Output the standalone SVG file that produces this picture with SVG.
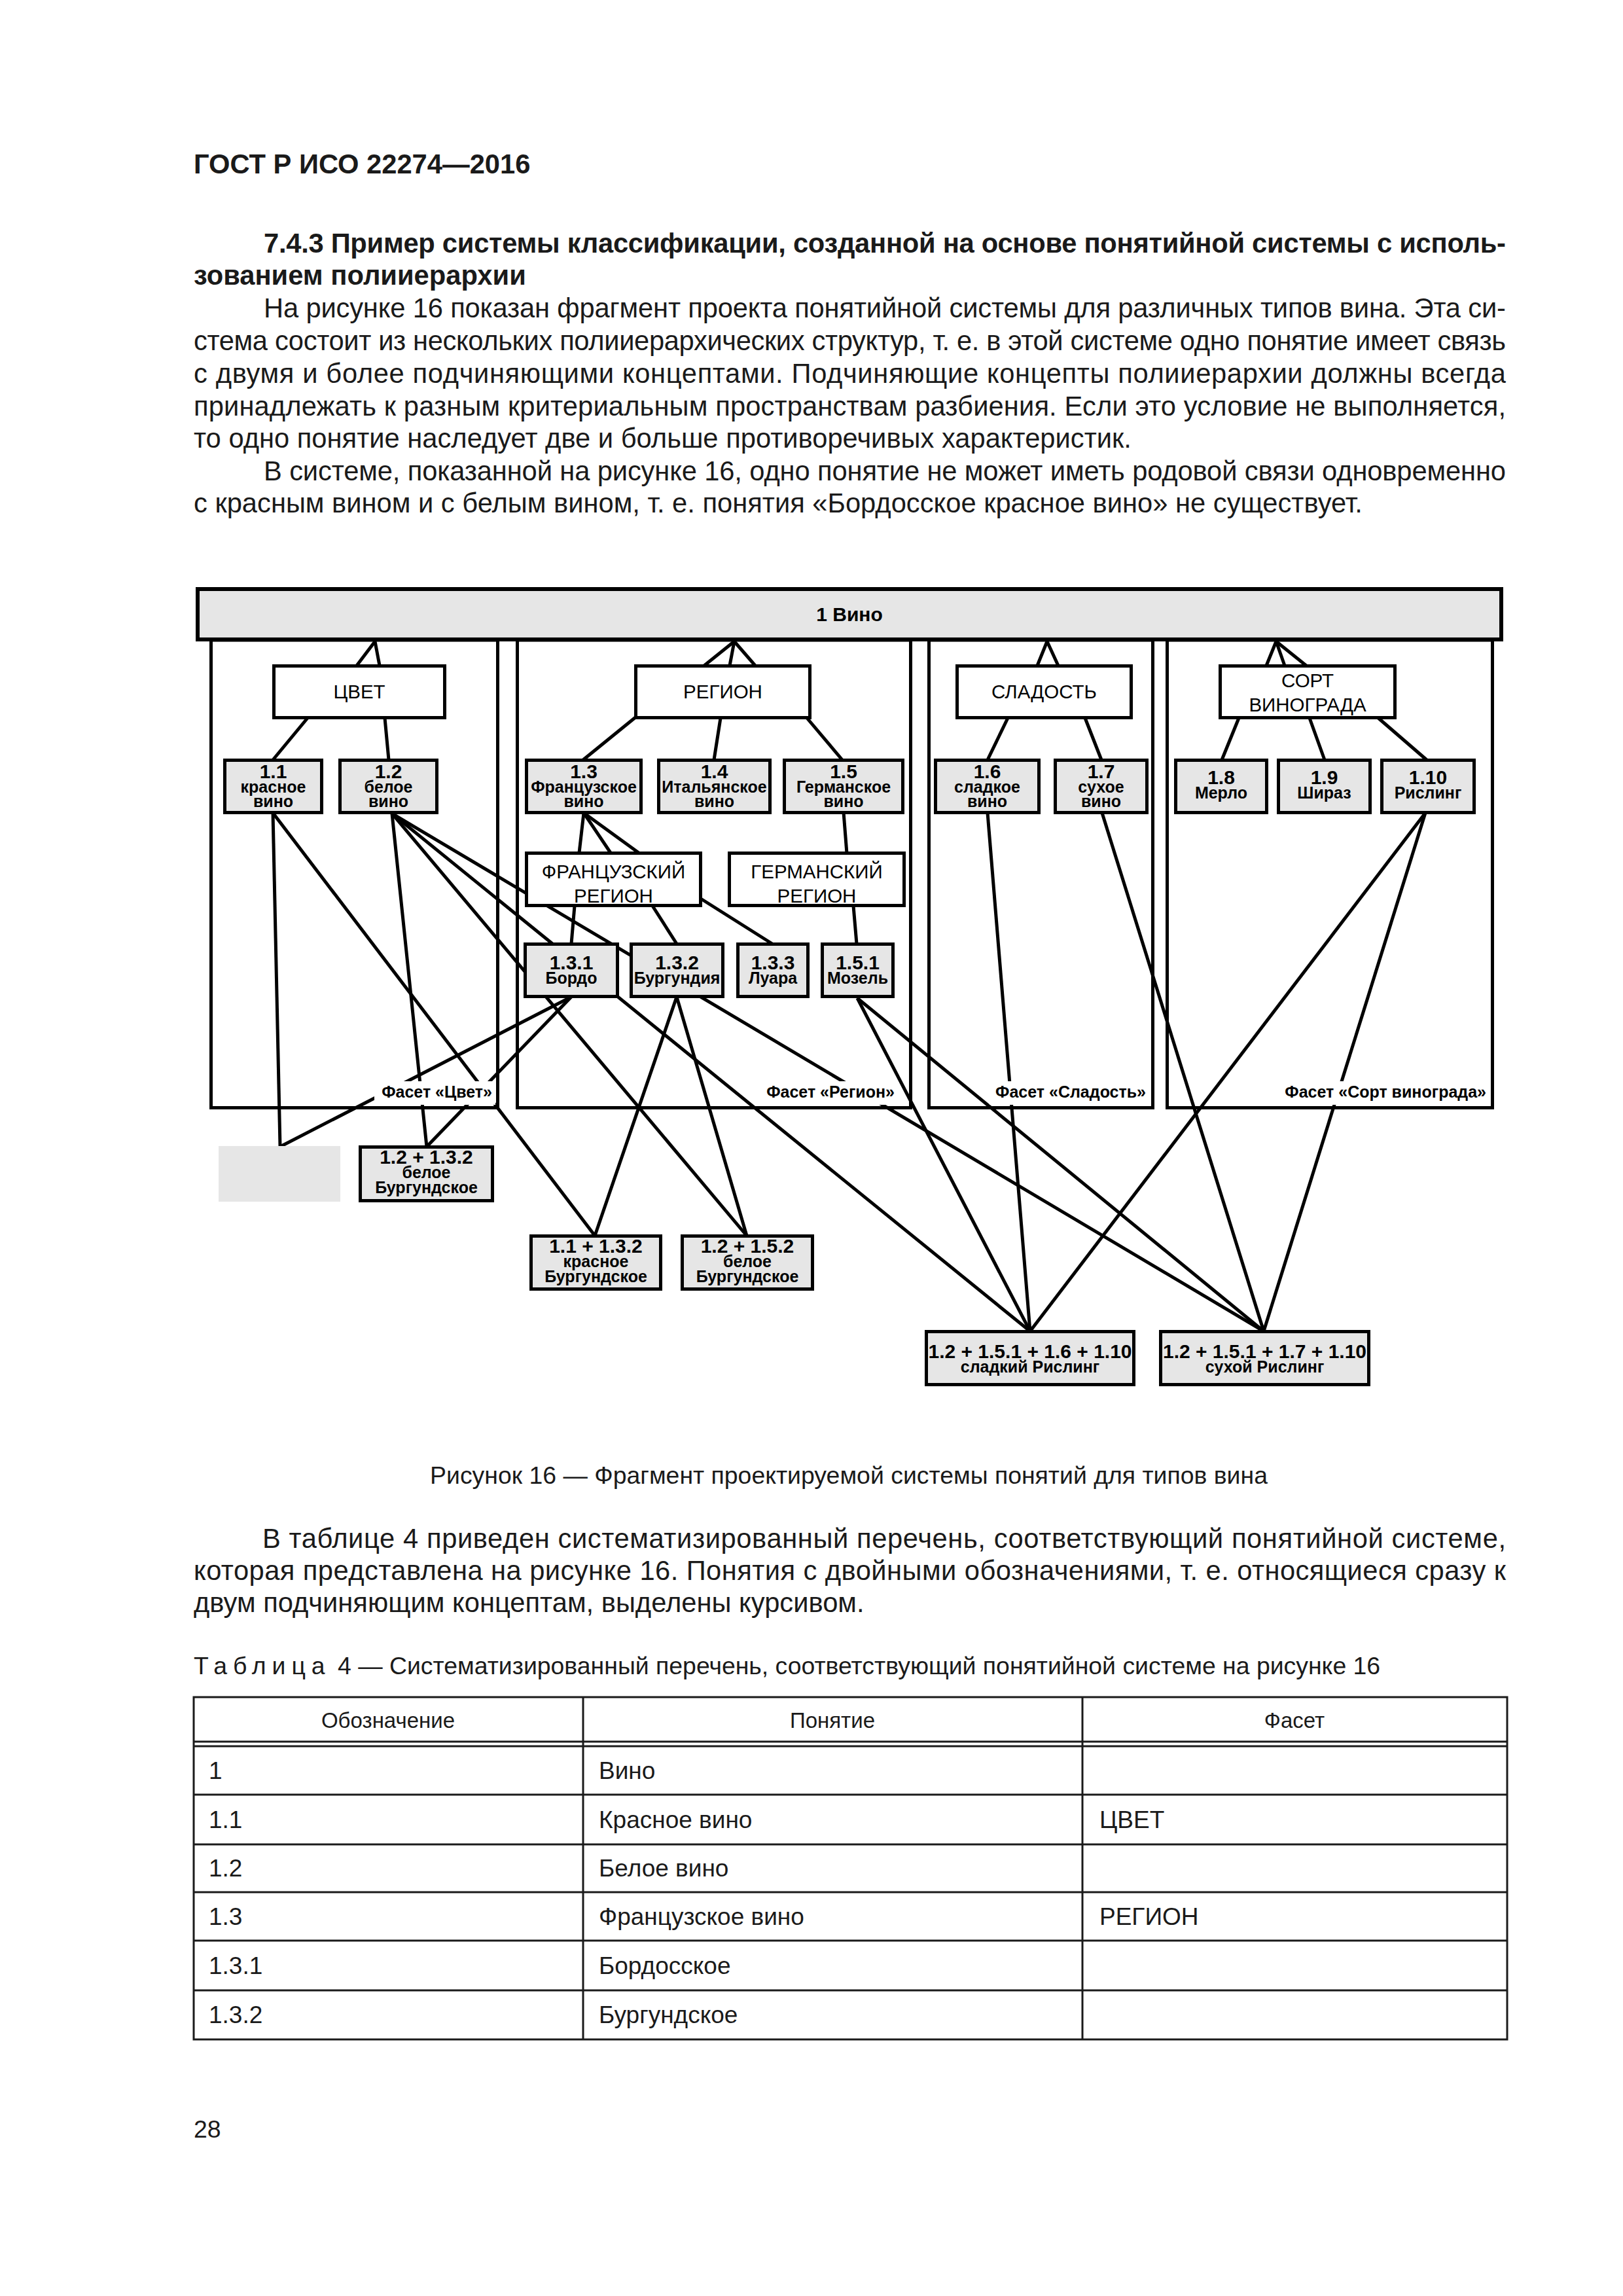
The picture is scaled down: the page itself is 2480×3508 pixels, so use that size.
<svg xmlns="http://www.w3.org/2000/svg" width="2480" height="3508" viewBox="0 0 2480 3508">
<style>
.page{fill:#1a1a1a;font-family:"Liberation Sans",Arial,sans-serif}
.body{font-size:41.7px}
.bold{font-weight:bold}
.cap{font-size:37.4px}
.th{font-size:33px;text-anchor:middle}
.td{font-size:37px}
.tbl{fill:none;stroke:#1a1a1a;stroke-width:3}
.gbox{fill:#e6e6e6;stroke:#000;stroke-width:5}
.wbox{fill:#fff;stroke:#000;stroke-width:5}
.facet{fill:none;stroke:#000;stroke-width:5}
.conn line{stroke:#000;stroke-width:5}
.t{font-family:"Liberation Sans",Arial,sans-serif;fill:#000;text-anchor:middle}
.num{font-size:30px;font-weight:bold}
.lbl{font-size:25px;font-weight:bold}
.hdr{font-size:29.5px}
.flab{font-family:"Liberation Sans",Arial,sans-serif;font-size:25px;font-weight:bold;text-anchor:end;fill:#000}
.lbg{fill:#fff}
</style>
<rect width="2480" height="3508" fill="#fff"/>

<!-- page text -->
<g class="page">
<text class="body bold" x="296" y="265">ГОСТ Р ИСО 22274—2016</text>
<text class="body bold" x="403" y="386" textLength="1898" lengthAdjust="spacing">7.4.3 Пример системы классификации, созданной на основе понятийной системы с исполь-</text>
<text class="body bold" x="296" y="435">зованием полииерархии</text>
<text class="body" x="403" y="485" textLength="1898" lengthAdjust="spacing">На рисунке 16 показан фрагмент проекта понятийной системы для различных типов вина. Эта си-</text>
<text class="body" x="296" y="535" textLength="2005" lengthAdjust="spacing">стема состоит из нескольких полииерархических структур, т. е. в этой системе одно понятие имеет связь</text>
<text class="body" x="296" y="585" textLength="2005" lengthAdjust="spacing">с двумя и более подчиняющими концептами. Подчиняющие концепты полииерархии должны всегда</text>
<text class="body" x="296" y="635" textLength="2005" lengthAdjust="spacing">принадлежать к разным критериальным пространствам разбиения. Если это условие не выполняется,</text>
<text class="body" x="296" y="684">то одно понятие наследует две и больше противоречивых характеристик.</text>
<text class="body" x="403" y="734" textLength="1898" lengthAdjust="spacing">В системе, показанной на рисунке 16, одно понятие не может иметь родовой связи одновременно</text>
<text class="body" x="296" y="783">с красным вином и с белым вином, т. е. понятия «Бордосское красное вино» не существует.</text>

<text class="cap" x="1297" y="2267" text-anchor="middle">Рисунок 16 — Фрагмент проектируемой системы понятий для типов вина</text>
<text class="body" x="401" y="2365" textLength="1900" lengthAdjust="spacing">В таблице 4 приведен систематизированный перечень, соответствующий понятийной системе,</text>
<text class="body" x="296" y="2414" textLength="2005" lengthAdjust="spacing">которая представлена на рисунке 16. Понятия с двойными обозначениями, т. е. относящиеся сразу к</text>
<text class="body" x="296" y="2463">двум подчиняющим концептам, выделены курсивом.</text>
<text class="cap" x="296" y="2558"><tspan letter-spacing="9">Таблица</tspan> 4 — Систематизированный перечень, соответствующий понятийной системе на рисунке 16</text>

<g id="table">
<rect class="tbl" x="296" y="2593" width="2007" height="523"/>
<line class="tbl" x1="296" y1="2661" x2="2303" y2="2661"/>
<line class="tbl" x1="296" y1="2668" x2="2303" y2="2668"/>
<line class="tbl" x1="296" y1="2742" x2="2303" y2="2742"/>
<line class="tbl" x1="296" y1="2818" x2="2303" y2="2818"/>
<line class="tbl" x1="296" y1="2891" x2="2303" y2="2891"/>
<line class="tbl" x1="296" y1="2965" x2="2303" y2="2965"/>
<line class="tbl" x1="296" y1="3041" x2="2303" y2="3041"/>
<line class="tbl" x1="891" y1="2593" x2="891" y2="3116"/>
<line class="tbl" x1="1654" y1="2593" x2="1654" y2="3116"/>
<text class="th" x="593" y="2640">Обозначение</text>
<text class="th" x="1272" y="2640">Понятие</text>
<text class="th" x="1978" y="2640">Фасет</text>
<text class="td" x="319" y="2718">1</text>
<text class="td" x="915" y="2718">Вино</text>
<text class="td" x="319" y="2793">1.1</text>
<text class="td" x="915" y="2793">Красное вино</text>
<text class="td" x="1680" y="2793">ЦВЕТ</text>
<text class="td" x="319" y="2867">1.2</text>
<text class="td" x="915" y="2867">Белое вино</text>
<text class="td" x="319" y="2941">1.3</text>
<text class="td" x="915" y="2941">Французское вино</text>
<text class="td" x="1680" y="2941">РЕГИОН</text>
<text class="td" x="319" y="3016">1.3.1</text>
<text class="td" x="915" y="3016">Бордосское</text>
<text class="td" x="319" y="3091">1.3.2</text>
<text class="td" x="915" y="3091">Бургундское</text>
</g>
<text class="cap" x="296" y="3266">28</text>
</g>

<!-- facet frames -->
<g id="facet-color"><rect class="facet" x="322.5" y="978" width="438" height="714.5"/></g>
<g id="facet-region"><rect class="facet" x="790.5" y="978" width="601" height="714.5"/></g>
<g id="facet-sweet"><rect class="facet" x="1419.5" y="978" width="342" height="714.5"/></g>
<g id="facet-grape"><rect class="facet" x="1783.5" y="978" width="497" height="714.5"/></g>

<!-- connectors -->
<g id="connectors" class="conn">
<line x1="573" y1="980" x2="545" y2="1017"/>
<line x1="573" y1="980" x2="580" y2="1017"/>
<line x1="1122" y1="980" x2="1076" y2="1017"/>
<line x1="1122" y1="980" x2="1115" y2="1017"/>
<line x1="1122" y1="980" x2="1154" y2="1017"/>
<line x1="1600" y1="980" x2="1585" y2="1017"/>
<line x1="1600" y1="980" x2="1617" y2="1017"/>
<line x1="1950" y1="980" x2="1935" y2="1017"/>
<line x1="1950" y1="980" x2="1963" y2="1017"/>
<line x1="1950" y1="980" x2="1996" y2="1017"/>
<line x1="470" y1="1097" x2="417" y2="1161"/>
<line x1="588" y1="1097" x2="594" y2="1161"/>
<line x1="971" y1="1096" x2="891" y2="1161"/>
<line x1="1101" y1="1097" x2="1091" y2="1161"/>
<line x1="1233" y1="1097" x2="1287" y2="1161"/>
<line x1="1540" y1="1097" x2="1509" y2="1161"/>
<line x1="1658" y1="1097" x2="1683" y2="1161"/>
<line x1="1893" y1="1097" x2="1867" y2="1161"/>
<line x1="2001" y1="1097" x2="2024" y2="1161"/>
<line x1="2106" y1="1097" x2="2180" y2="1161"/>
<line x1="892" y1="1242" x2="885" y2="1303"/>
<line x1="892" y1="1242" x2="933" y2="1303"/>
<line x1="892" y1="1242" x2="976" y2="1303"/>
<line x1="1289" y1="1241" x2="1294" y2="1304"/>
<line x1="878" y1="1384" x2="873" y2="1442"/>
<line x1="997" y1="1384" x2="1034" y2="1442"/>
<line x1="1066" y1="1370" x2="1180" y2="1442"/>
<line x1="1304" y1="1384" x2="1309" y2="1442"/>
<line x1="417" y1="1242" x2="428" y2="1752"/>
<line x1="417" y1="1242" x2="909" y2="1888"/>
<line x1="599" y1="1243" x2="652" y2="1752"/>
<line x1="599" y1="1243" x2="1141" y2="1888"/>
<line x1="599" y1="1243" x2="1574" y2="2034"/>
<line x1="599" y1="1243" x2="1931" y2="2034"/>
<line x1="873" y1="1523" x2="428" y2="1752"/>
<line x1="873" y1="1523" x2="652" y2="1752"/>
<line x1="1034" y1="1523" x2="909" y2="1888"/>
<line x1="1034" y1="1523" x2="1141" y2="1888"/>
<line x1="1310" y1="1525" x2="1574" y2="2034"/>
<line x1="1310" y1="1525" x2="1931" y2="2034"/>
<line x1="1509" y1="1242" x2="1574" y2="2034"/>
<line x1="1684" y1="1242" x2="1931" y2="2034"/>
<line x1="2178" y1="1242" x2="1574" y2="2034"/>
<line x1="2178" y1="1242" x2="1931" y2="2034"/>
</g>

<!-- facet labels -->
<g id="facet-labels">
<rect class="lbg" x="572" y="1652" width="185" height="36"/>
<text class="flab" x="752" y="1677">Фасет «Цвет»</text>
<rect class="lbg" x="1162" y="1652" width="209" height="36"/>
<text class="flab" x="1367" y="1677">Фасет «Регион»</text>
<rect class="lbg" x="1512" y="1652" width="245" height="36"/>
<text class="flab" x="1751" y="1677">Фасет «Сладость»</text>
<rect class="lbg" x="1958" y="1652" width="319" height="36"/>
<text class="flab" x="2271" y="1677">Фасет «Сорт винограда»</text>
</g>

<!-- nodes -->
<g id="n1"><rect x="302" y="900" width="1992" height="77" fill="#e6e6e6" stroke="#000" stroke-width="6"/><text class="t num" x="1298" y="949" font-size="28">1 Вино</text></g>

<g id="color"><rect class="wbox" x="418.5" y="1017.5" width="261" height="79"/><text class="t hdr" x="549" y="1067">ЦВЕТ</text></g>
<g id="region"><rect class="wbox" x="971.5" y="1017.5" width="266" height="79"/><text class="t hdr" x="1104.5" y="1067">РЕГИОН</text></g>
<g id="sweetness"><rect class="wbox" x="1462.5" y="1017.5" width="266" height="79"/><text class="t hdr" x="1595.5" y="1067">СЛАДОСТЬ</text></g>
<g id="grape"><rect class="wbox" x="1864.5" y="1017.5" width="267" height="79"/><text class="t hdr" x="1998" y="1050">СОРТ</text><text class="t hdr" x="1998" y="1087">ВИНОГРАДА</text></g>

<g id="n1-1"><rect class="gbox" x="343.5" y="1161.5" width="148" height="80"/><text class="t num" x="417.5" y="1189">1.1</text><text class="t lbl" x="417.5" y="1211">красное</text><text class="t lbl" x="417.5" y="1233">вино</text></g>
<g id="n1-2"><rect class="gbox" x="519.5" y="1161.5" width="148" height="80"/><text class="t num" x="593.5" y="1189">1.2</text><text class="t lbl" x="593.5" y="1211">белое</text><text class="t lbl" x="593.5" y="1233">вино</text></g>
<g id="n1-3"><rect class="gbox" x="804.5" y="1161.5" width="175" height="80"/><text class="t num" x="892" y="1189">1.3</text><text class="t lbl" x="892" y="1211">Французское</text><text class="t lbl" x="892" y="1233">вино</text></g>
<g id="n1-4"><rect class="gbox" x="1006.5" y="1161.5" width="170" height="80"/><text class="t num" x="1091.5" y="1189">1.4</text><text class="t lbl" x="1091.5" y="1211">Итальянское</text><text class="t lbl" x="1091.5" y="1233">вино</text></g>
<g id="n1-5"><rect class="gbox" x="1198.5" y="1161.5" width="181" height="80"/><text class="t num" x="1289" y="1189">1.5</text><text class="t lbl" x="1289" y="1211">Германское</text><text class="t lbl" x="1289" y="1233">вино</text></g>
<g id="n1-6"><rect class="gbox" x="1429.5" y="1161.5" width="158" height="80"/><text class="t num" x="1508.5" y="1189">1.6</text><text class="t lbl" x="1508.5" y="1211">сладкое</text><text class="t lbl" x="1508.5" y="1233">вино</text></g>
<g id="n1-7"><rect class="gbox" x="1612.5" y="1161.5" width="140" height="80"/><text class="t num" x="1682.5" y="1189">1.7</text><text class="t lbl" x="1682.5" y="1211">сухое</text><text class="t lbl" x="1682.5" y="1233">вино</text></g>
<g id="n1-8"><rect class="gbox" x="1796.5" y="1161.5" width="139" height="80"/><text class="t num" x="1866" y="1198">1.8</text><text class="t lbl" x="1866" y="1220">Мерло</text></g>
<g id="n1-9"><rect class="gbox" x="1953.5" y="1161.5" width="140" height="80"/><text class="t num" x="2023.5" y="1198">1.9</text><text class="t lbl" x="2023.5" y="1220">Шираз</text></g>
<g id="n1-10"><rect class="gbox" x="2111.5" y="1161.5" width="141" height="80"/><text class="t num" x="2182" y="1198">1.10</text><text class="t lbl" x="2182" y="1220">Рислинг</text></g>

<g id="fr-region"><rect class="wbox" x="804.5" y="1303.5" width="266" height="80"/><text class="t hdr" x="937.5" y="1342">ФРАНЦУЗСКИЙ</text><text class="t hdr" x="937.5" y="1379">РЕГИОН</text></g>
<g id="de-region"><rect class="wbox" x="1114.5" y="1303.5" width="267" height="80"/><text class="t hdr" x="1248" y="1342">ГЕРМАНСКИЙ</text><text class="t hdr" x="1248" y="1379">РЕГИОН</text></g>

<g id="n1-3-1"><rect class="gbox" x="802.5" y="1442.5" width="141" height="80"/><text class="t num" x="873" y="1481">1.3.1</text><text class="t lbl" x="873" y="1503">Бордо</text></g>
<g id="n1-3-2"><rect class="gbox" x="964.5" y="1442.5" width="140" height="80"/><text class="t num" x="1034.5" y="1481">1.3.2</text><text class="t lbl" x="1034.5" y="1503">Бургундия</text></g>
<g id="n1-3-3"><rect class="gbox" x="1127.5" y="1442.5" width="107" height="80"/><text class="t num" x="1181" y="1481">1.3.3</text><text class="t lbl" x="1181" y="1503">Луара</text></g>
<g id="n1-5-1"><rect class="gbox" x="1256.5" y="1442.5" width="108" height="80"/><text class="t num" x="1310.5" y="1481">1.5.1</text><text class="t lbl" x="1310.5" y="1503">Мозель</text></g>

<g id="empty"><rect x="334" y="1751" width="186" height="85" fill="#e6e6e6"/></g>
<g id="n12-132"><rect class="gbox" x="550.5" y="1752.5" width="202" height="82"/><text class="t num" x="651.5" y="1778">1.2 + 1.3.2</text><text class="t lbl" x="651.5" y="1800">белое</text><text class="t lbl" x="651.5" y="1823">Бургундское</text></g>
<g id="n11-132"><rect class="gbox" x="811.5" y="1888.5" width="198" height="81"/><text class="t num" x="910.5" y="1914">1.1 + 1.3.2</text><text class="t lbl" x="910.5" y="1936">красное</text><text class="t lbl" x="910.5" y="1959">Бургундское</text></g>
<g id="n12-152"><rect class="gbox" x="1042.5" y="1888.5" width="199" height="81"/><text class="t num" x="1142" y="1914">1.2 + 1.5.2</text><text class="t lbl" x="1142" y="1936">белое</text><text class="t lbl" x="1142" y="1959">Бургундское</text></g>
<g id="sweet-riesling"><rect class="gbox" x="1415.5" y="2034.5" width="317" height="81"/><text class="t num" x="1574" y="2075">1.2 + 1.5.1 + 1.6 + 1.10</text><text class="t lbl" x="1574" y="2097">сладкий Рислинг</text></g>
<g id="dry-riesling"><rect class="gbox" x="1773.5" y="2034.5" width="318" height="81"/><text class="t num" x="1932.5" y="2075">1.2 + 1.5.1 + 1.7 + 1.10</text><text class="t lbl" x="1932.5" y="2097">сухой Рислинг</text></g>
</svg>
